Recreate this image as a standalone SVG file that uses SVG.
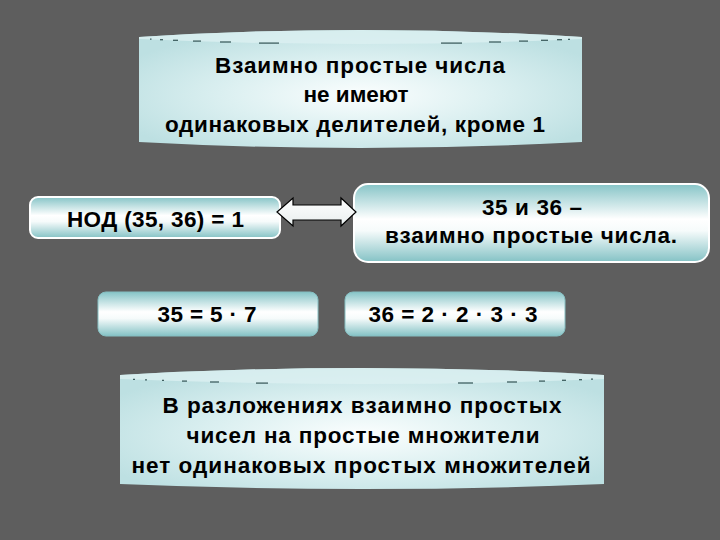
<svg xmlns="http://www.w3.org/2000/svg" width="720" height="540" viewBox="0 0 720 540">
<style>
.t{font-family:"Liberation Sans",Arial,sans-serif;font-weight:bold;font-size:22.5px;fill:#000;text-anchor:middle}
.box{fill:url(#boxg);stroke:#ffffff;stroke-width:2}
.box2{fill:url(#boxg);stroke:#86bfc2;stroke-width:1}
.cyl{fill:url(#cylg);stroke:none}
.cap{fill:#dcf0f1;opacity:0.8}
.dash{stroke:#3f5f60;stroke-width:1.3;fill:none}
.arrow{fill:url(#arrg);stroke:#000;stroke-width:1.2;stroke-linejoin:miter}
</style>
<defs>
<linearGradient id="boxg" x1="0" y1="0" x2="0" y2="1">
<stop offset="0" stop-color="#86c4c7"/>
<stop offset="0.45" stop-color="#ffffff"/>
<stop offset="0.6" stop-color="#f6fbfb"/>
<stop offset="1" stop-color="#84c2c5"/>
</linearGradient>
<radialGradient id="cylg" cx="0.5" cy="0.55" r="0.6">
<stop offset="0" stop-color="#fbfefe"/>
<stop offset="0.5" stop-color="#dcf0f1"/>
<stop offset="1" stop-color="#bde0e2"/>
</radialGradient>
<linearGradient id="arrg" x1="0" y1="0" x2="0" y2="1">
<stop offset="0" stop-color="#ffffff"/>
<stop offset="1" stop-color="#e8eeee"/>
</linearGradient>
</defs>
<rect width="720" height="540" fill="#5e5e5e"/>

<g id="top-note">
<path class="cyl" d="M139,37 Q360,23 582,37 L582,142 Q360,154 139,142 Z"/>
<path class="cap" d="M139,37 Q360,23 582,37 L582,39 Q360,49 139,39 Z"/>
<g class="dash">
<line x1="150" y1="39.2" x2="151.5" y2="39.2"/>
<line x1="160" y1="39.7" x2="163" y2="39.7"/>
<line x1="173" y1="40.3" x2="178" y2="40.3"/>
<line x1="193" y1="41.1" x2="201" y2="41.1"/>
<line x1="220" y1="42" x2="231" y2="42"/>
<line x1="259" y1="43.1" x2="279" y2="43.1"/>
<line x1="441" y1="43.1" x2="462" y2="43.1"/>
<line x1="489" y1="42" x2="501" y2="42"/>
<line x1="519" y1="41.1" x2="528" y2="41.1"/>
<line x1="541" y1="40.3" x2="548" y2="40.3"/>
<line x1="557" y1="39.7" x2="562" y2="39.7"/>
<line x1="568" y1="39.3" x2="570" y2="39.3"/>
</g>
<text class="t" x="360" y="73" textLength="290" lengthAdjust="spacing">Взаимно простые числа</text>
<text class="t" x="356" y="102" textLength="105" lengthAdjust="spacing">не имеют</text>
<text class="t" x="355" y="132" textLength="380" lengthAdjust="spacing">одинаковых делителей, кроме 1</text>
</g>

<g id="gcd">
<rect class="box" x="30" y="197" width="250" height="41" rx="8"/>
<text class="t" x="155.5" y="227" textLength="177" lengthAdjust="spacing">НОД (35, 36) = 1</text>
</g>

<g id="coprime">
<rect class="box" x="354" y="184" width="355" height="78" rx="14"/>
<text class="t" x="532" y="215" textLength="100" lengthAdjust="spacing">35 и 36 –</text>
<text class="t" x="531" y="243" textLength="292" lengthAdjust="spacing">взаимно простые числа.</text>
</g>

<g id="factor35">
<rect class="box2" x="98" y="292" width="220" height="44" rx="8"/>
<text class="t" x="207" y="322" textLength="99" lengthAdjust="spacing">35 = 5 · 7</text>
</g>

<g id="factor36">
<rect class="box2" x="345" y="292" width="220" height="44" rx="8"/>
<text class="t" x="453" y="322" textLength="169" lengthAdjust="spacing">36 = 2 · 2 · 3 · 3</text>
</g>

<g id="bottom-note">
<path class="cyl" d="M120,375 Q362,361 604,375 L604,484 Q362,494 120,484 Z"/>
<path class="cap" d="M120,375 Q362,361 604,375 L604,379 Q362,389 120,379 Z"/>
<g class="dash">
<line x1="133" y1="379.3" x2="135" y2="379.3"/>
<line x1="145" y1="379.8" x2="147" y2="379.8"/>
<line x1="162" y1="380.4" x2="164" y2="380.4"/>
<line x1="182" y1="381.1" x2="187" y2="381.1"/>
<line x1="210" y1="382" x2="219" y2="382"/>
<line x1="256" y1="383.1" x2="268" y2="383.1"/>
<line x1="458" y1="383" x2="473" y2="383"/>
<line x1="507" y1="382" x2="517" y2="382"/>
<line x1="539" y1="381.1" x2="545" y2="381.1"/>
<line x1="562" y1="380.3" x2="566" y2="380.3"/>
<line x1="579" y1="379.7" x2="582" y2="379.7"/>
<line x1="591" y1="379.2" x2="593" y2="379.2"/>
</g>
<text class="t" x="362" y="413" textLength="399" lengthAdjust="spacing">В разложениях взаимно простых</text>
<text class="t" x="363" y="443" textLength="353" lengthAdjust="spacing">чисел на простые множители</text>
<text class="t" x="361" y="473" textLength="459" lengthAdjust="spacing">нет одинаковых простых множителей</text>
</g>

<g id="connectors">
<polygon class="arrow" points="277,212 293,198 293,205 341,205 341,198 356,212 341,226 341,220 293,220 293,226"/>
</g>
</svg>
